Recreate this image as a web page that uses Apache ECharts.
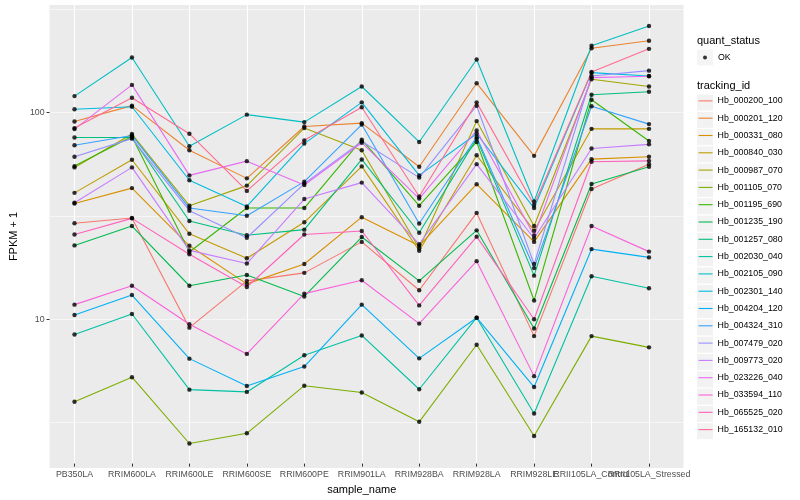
<!DOCTYPE html>
<html><head><meta charset="utf-8">
<script src="https://cdn.jsdelivr.net/npm/echarts@6/dist/echarts.min.js"></script>
<style>html,body{margin:0;padding:0;background:#fff}#c{width:800px;height:500px}</style>
</head><body><div id="c"></div>
<script>
const categories = ['PB350LA','RRIM600LA','RRIM600LE','RRIM600SE','RRIM600PE','RRIM901LA','RRIM928BA','RRIM928LA','RRIM928LE','RRII105LA_Control','RRII105LA_Stressed'];
const yTicks = [10, 100];

const Hb_000200_100 = [28.5, 30.2, 8.8, 14.9, 16.3, 23.1, 13.4, 32.0, 8.0, 41.9, 55.4];
const Hb_000201_120 = [89.5, 107, 64.8, 47.2, 84.6, 87.9, 53.8, 137.7, 60.8, 204, 222];
const Hb_000331_080 = [35.6, 42.3, 22.1, 14.4, 18.0, 30.5, 22.1, 44.2, 23.1, 58.6, 60.2];
const Hb_000840_030 = [40.1, 58.2, 25.3, 19.2, 28.8, 54.0, 20.9, 61.2, 26.2, 82.4, 82.4];
const Hb_000987_070 = [53.4, 77.7, 34.7, 43.5, 83.1, 64.8, 21.5, 89.9, 27.6, 144, 132.7];
const Hb_001105_070 = [3.82, 5.04, 2.39, 2.68, 4.58, 4.24, 3.05, 7.26, 2.60, 8.0, 7.05];
const Hb_001195_690 = [54.2, 75.7, 20.6, 33.8, 33.8, 73.0, 34.7, 71.1, 11.95, 114.3, 71.9];
const Hb_001235_190 = [22.2, 27.6, 14.1, 15.9, 12.5, 24.4, 14.9, 26.3, 8.71, 44.3, 53.8];
const Hb_001257_080 = [74.8, 74.8, 29.2, 24.9, 26.5, 58.4, 25.6, 73.8, 15.8, 120.9, 125.0];
const Hb_002030_040 = [8.15, 10.26, 4.38, 4.27, 6.45, 8.06, 4.40, 9.84, 3.35, 15.7, 13.7];
const Hb_002105_090 = [119.1, 184, 67.7, 96.7, 88.9, 132.7, 71.1, 179.9, 36.4, 210, 262];
const Hb_002301_140 = [102.7, 105.7, 46.2, 34.4, 69.8, 111, 48.8, 78.0, 33.8, 155.1, 149.4];
const Hb_004204_120 = [10.15, 12.7, 6.21, 4.56, 5.68, 11.4, 6.23, 9.84, 4.51, 21.3, 19.4];
const Hb_004324_310 = [68.5, 76.5, 33.8, 31.0, 45.5, 86.5, 28.4, 75.2, 17.2, 106.2, 86.9];
const Hb_007479_020 = [60.2, 73.8, 32.8, 24.2, 44.5, 71.6, 47.6, 106.9, 18.0, 149.4, 158.6];
const Hb_009773_020 = [35.9, 53.4, 21.0, 18.1, 37.4, 45.0, 22.5, 55.4, 24.0, 66.0, 69.2];
const Hb_023226_040 = [82.2, 135.1, 48.8, 57.3, 43.8, 70.5, 37.6, 80.9, 24.8, 146.7, 148.9];
const Hb_033594_110 = [11.4, 14.1, 9.15, 6.55, 12.9, 15.0, 9.21, 18.6, 5.10, 27.6, 20.7];
const Hb_065525_020 = [25.1, 30.1, 20.1, 13.9, 25.1, 26.1, 11.3, 24.5, 9.67, 56.9, 57.5];
const Hb_165132_010 = [83.1, 116.9, 78.0, 41.0, 72.4, 105.0, 38.5, 111, 35.0, 156.2, 202.7];

const ids = ['Hb_000200_100','Hb_000201_120','Hb_000331_080','Hb_000840_030','Hb_000987_070','Hb_001105_070','Hb_001195_690','Hb_001235_190','Hb_001257_080','Hb_002030_040','Hb_002105_090','Hb_002301_140','Hb_004204_120','Hb_004324_310','Hb_007479_020','Hb_009773_020','Hb_023226_040','Hb_033594_110','Hb_065525_020','Hb_165132_010'];
const values = [Hb_000200_100,Hb_000201_120,Hb_000331_080,Hb_000840_030,Hb_000987_070,Hb_001105_070,Hb_001195_690,Hb_001235_190,Hb_001257_080,Hb_002030_040,Hb_002105_090,Hb_002301_140,Hb_004204_120,Hb_004324_310,Hb_007479_020,Hb_009773_020,Hb_023226_040,Hb_033594_110,Hb_065525_020,Hb_165132_010];
const colors = ['#F8766D','#EA8331','#D89000','#C09B00','#A3A500','#7CAE00','#39B600','#00BB4E','#00BF7D','#00C1A3','#00BFC4','#00BAE0','#00B0F6','#35A2FF','#9590FF','#C77CFF','#E76BF3','#FA62DB','#FF62BC','#FF6C91'];

const FONT = '"Liberation Sans", Arial, sans-serif';
const YMIN = 1.906, YMAX = 332;

const chart = echarts.init(document.getElementById('c'), null, {renderer: 'canvas'});

const lineSeries = ids.map((id, k) => ({
  name: id, type: 'line', xAxisIndex: 1, yAxisIndex: 2,
  data: values[k], showSymbol: false, symbol: 'circle',
  lineStyle: {width: 1.1, color: colors[k]}, itemStyle: {color: colors[k]},
  z: 2, silent: true, animation: false
}));
const pointSeries = {
  name: 'OK', type: 'scatter', xAxisIndex: 1, yAxisIndex: 2,
  data: values.flatMap(v => v.map((y, i) => [i, y])),
  symbol: 'circle', symbolSize: 4.4, itemStyle: {color: '#000'}, z: 3, silent: true, animation: false
};

const dotIcon = 'path://M0,0L0,0M16,16L16,16M6,8a2,2 0 1,0 4,0a2,2 0 1,0 -4,0Z';

chart.setOption({
  animation: false,
  textStyle: {fontFamily: FONT},
  grid: [
    {left: 40, right: 116.5, top: 5, bottom: 32, show: true, backgroundColor: '#EBEBEB', borderWidth: 0},
    {left: 74.5, right: 151, top: 5, bottom: 32, show: false}
  ],
  title: [
    {text: 'quant_status', left: 697, top: 35.5, padding: 0, textStyle: {fontSize: 11, fontWeight: 'normal', color: '#000', fontFamily: FONT}},
    {text: 'tracking_id', left: 697, top: 80.5, padding: 0, textStyle: {fontSize: 11, fontWeight: 'normal', color: '#000', fontFamily: FONT}}
  ],
  legend: [
    {data: ['OK'], left: 697, top: 49.5, padding: 0, itemWidth: 16, itemHeight: 16, icon: 'rect', selectedMode: false,
     itemStyle: {color: '#F2F2F2', borderWidth: 0}, textStyle: {color: 'rgba(0,0,0,0)', fontSize: 8.8}},
    {data: ['OK'], left: 697, top: 49.5, padding: 0, itemWidth: 16, itemHeight: 16, icon: dotIcon, selectedMode: false, z: 5,
     textStyle: {color: '#000', fontSize: 8.8, fontFamily: FONT}},
    {data: ids, orient: 'vertical', left: 697, top: 94.5, padding: 0, itemWidth: 16, itemHeight: 16, itemGap: 1.3, icon: 'rect', selectedMode: false,
     itemStyle: {color: '#F2F2F2', borderWidth: 0}, textStyle: {color: 'rgba(0,0,0,0)', fontSize: 8.8}},
    {data: ids, orient: 'vertical', left: 698, top: 94.5, padding: 0, itemWidth: 14, itemHeight: 16, itemGap: 4.5, selectedMode: false, z: 5,
     itemStyle: {color: 'rgba(0,0,0,0)', borderWidth: 0}, lineStyle: {width: 1.1},
     textStyle: {color: '#000', fontSize: 8.8, fontFamily: FONT}}
  ],
  xAxis: [
    {gridIndex: 0, type: 'value', min: 0, max: 1, show: false},
    {gridIndex: 1, type: 'category', data: categories, boundaryGap: false,
     axisLine: {show: false},
     axisTick: {show: true, length: 3, lineStyle: {color: '#333', width: 1}},
     axisLabel: {interval: 0, color: '#4D4D4D', fontSize: 8.8, margin: 6.5, fontFamily: FONT},
     splitLine: {show: true, lineStyle: {color: '#fff', width: 1.1}},
     name: 'sample_name', nameLocation: 'middle', nameGap: 13.5,
     nameTextStyle: {color: '#000', fontSize: 11, fontFamily: FONT}}
  ],
  yAxis: [
    {gridIndex: 0, type: 'log', logBase: 10, min: YMIN, max: YMAX,
     axisLine: {show: false},
     axisTick: {show: true, length: 3, lineStyle: {color: '#333'}, customValues: yTicks},
     axisLabel: {color: '#4D4D4D', fontSize: 8.8, margin: 5, customValues: yTicks, fontFamily: FONT,
       formatter: v => (yTicks.indexOf(Math.round(v)) >= 0 && Math.abs(v - Math.round(v)) < 1e-6) ? String(Math.round(v)) : ''},
     splitLine: {show: true, lineStyle: {color: '#fff', width: 1.1}, showMinLine: false, showMaxLine: false},
     name: 'FPKM + 1', nameLocation: 'middle', nameGap: 23, nameRotate: 90,
     nameTextStyle: {color: '#000', fontSize: 11, fontFamily: FONT}, z: 1},
    {gridIndex: 0, type: 'log', logBase: Math.sqrt(10), min: YMIN, max: YMAX, position: 'left',
     axisLine: {show: false}, axisTick: {show: false}, axisLabel: {show: false},
     splitLine: {show: true, lineStyle: {color: '#fff', width: 0.55}, showMinLine: false, showMaxLine: false}, z: 0},
    {gridIndex: 1, type: 'log', logBase: 10, min: YMIN, max: YMAX, show: false}
  ],
  series: lineSeries.concat([pointSeries])
});
</script></body></html>
